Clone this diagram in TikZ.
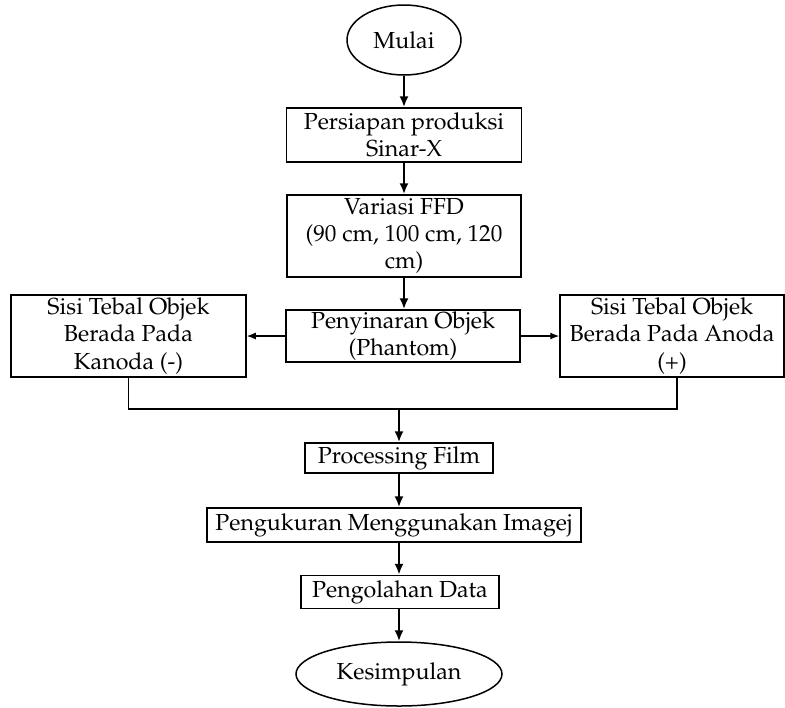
\documentclass[tikz,border=0pt]{standalone}
\usepackage[T1]{fontenc}
\usepackage{mathpazo}
\usepackage{tikz}
\usetikzlibrary{arrows.meta,shapes.geometric}

\tikzset{
	kotak/.style={draw,line width=0.75pt,rectangle,align=center,inner sep=0pt},
	oval/.style={draw,line width=0.75pt,ellipse,inner sep=0pt},
	panah/.style={-{Latex[length=5.5pt,width=4.5pt]},line width=1.2pt},
	panahtipis/.style={-{Latex[length=4.5pt,width=3.5pt]},line width=0.6pt}
}

\begin{document}
\begin{tikzpicture}[x=0.5pt,y=-0.5pt,font=\fontsize{11.6}{13.6}\selectfont]
	\useasboundingbox (0,0) rectangle (785,707);
	
	\node[oval,minimum width=57pt,minimum height=35pt] (mulai) at (404,40) {Mulai};
	\node[kotak,minimum width=117.5pt,minimum height=27pt] (persiapan) at (404,135) {Persiapan produksi\\Sinar-X};
	\node[kotak,minimum width=117pt,minimum height=41pt] (variasi) at (404,236) {Variasi FFD\\(90 cm, 100 cm, 120\\cm)};
	\node[kotak,minimum width=117pt,minimum height=26pt] (penyinaran) at (403,336) {Penyinaran Objek\\(Phantom)};
	\node[kotak,minimum width=117.5pt,minimum height=41pt] (kiri) at (128.5,336) {Sisi Tebal Objek\\Berada Pada\\Kanoda (-)};
	\node[kotak,minimum width=112pt,minimum height=41pt] (kanan) at (672,336) {Sisi Tebal Objek\\Berada Pada Anoda\\(+)};
	\node[kotak,minimum width=94pt,minimum height=15pt] (processing) at (399,458) {Processing Film};
	\node[kotak,minimum width=187pt,minimum height=17pt] (pengukuran) at (394,525) {Pengukuran Menggunakan Imagej};
	\node[kotak,minimum width=99pt,minimum height=16.5pt] (pengolahan) at (400,592) {Pengolahan Data};
	\node[oval,minimum width=103pt,minimum height=32pt] (kesimpulan) at (399,674) {Kesimpulan};
	
	\coordinate (gabung) at (399,409);
	
	\draw[panah] (mulai) -- (persiapan);
	\draw[panah] (persiapan) -- (variasi);
	\draw[panah] (variasi.south) -- (variasi.south |- penyinaran.north);
	\draw[panahtipis] (penyinaran) -- (kiri);
	\draw[panahtipis] (penyinaran) -- (kanan);
	\draw[line width=0.75pt] (kiri.south) |- (gabung) -| ([xshift=2.5pt]kanan.south);
	\draw[panah] (gabung) -- (processing);
	\draw[panah] (processing.south) -- (processing.south |- pengukuran.north);
	\draw[panah] (processing.south |- pengukuran.south) -- (processing.south |- pengolahan.north);
	\draw[panah] (pengolahan.south -| kesimpulan.north) -- (kesimpulan);
\end{tikzpicture}
\end{document}
